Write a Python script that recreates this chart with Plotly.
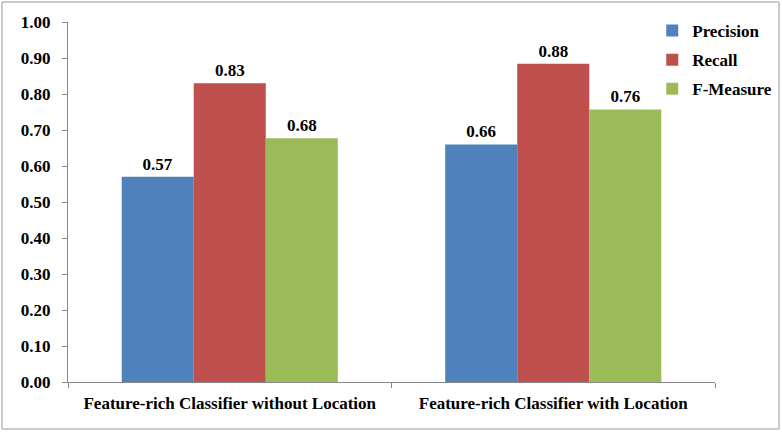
import plotly.graph_objects as go

categories = ["Feature-rich Classifier without Location", "Feature-rich Classifier with Location"]
precision = [0.570, 0.660]
recall = [0.830, 0.884]
f_measure = [0.677, 0.757]

_FONT = "Liberation Serif"
series = [
    ("Precision", precision, "#4F81BD"),
    ("Recall", recall, "#C0504D"),
    ("F-Measure", f_measure, "#9BBB59"),
]

fig = go.Figure()
for name, vals, color in series:
    fig.add_trace(
        go.Bar(
            x=categories, y=vals, name=name, legendgroup=name,
            marker=dict(color=color, line=dict(width=0)),
            texttemplate="%{y:.2f}", textposition="outside", cliponaxis=False,
            textfont=dict(family=_FONT, size=17, color="black", weight="bold"),
        )
    )

fig.update_layout(
    template="plotly_white",
    width=782, height=432,
    barmode="group", bargap=0.332, bargroupgap=0,
    font=dict(family=_FONT, size=17, color="black", weight="bold"),
    margin=dict(l=68, r=67, t=22, b=50, autoexpand=False),
    plot_bgcolor="white", paper_bgcolor="white",
    xaxis=dict(
        showline=True, linecolor="#888888", linewidth=1, ticks="outside", tickson="boundaries",
        ticklen=5, tickcolor="#888888", showgrid=False, tickangle=0, automargin=False,
        ticklabelstandoff=6,
        tickfont=dict(family=_FONT, size=17, color="black", weight="bold"),
    ),
    yaxis=dict(
        range=[0, 1.0], dtick=0.1, tickformat=".2f", showline=True, linecolor="#888888",
        linewidth=1, ticks="outside", ticklen=5, tickcolor="#888888", showgrid=False,
        zeroline=False, automargin=False, ticklabelstandoff=8,
        tickfont=dict(family=_FONT, size=17, color="black", weight="bold"),
    ),
    legend=dict(
        x=0.903, y=1.025, xanchor="left", yanchor="top", tracegroupgap=4, itemwidth=30,
        font=dict(family=_FONT, size=17, color="black", weight="bold"),
        bgcolor="rgba(0,0,0,0)",
    ),
    shapes=[dict(
        type="rect", xref="paper", yref="paper",
        x0=-0.102, x1=1.099, y0=-0.1306, y1=1.0556,
        line=dict(color="#999999", width=1), fillcolor="rgba(0,0,0,0)", layer="below",
    )],
)

fig.write_html(
    "out.html",
    config={"displayModeBar": False},
    post_script="document.body.style.margin='0';",
)
